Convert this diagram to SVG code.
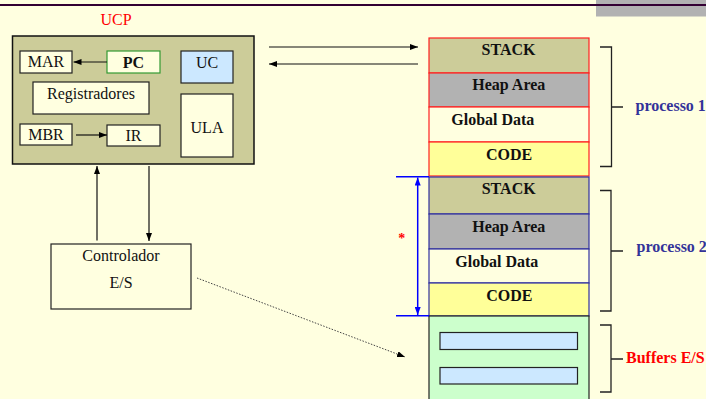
<svg xmlns="http://www.w3.org/2000/svg" width="706" height="399" viewBox="0 0 706 399">
<defs>
<marker id="ah" viewBox="0 0 8 6" refX="8" refY="3" markerWidth="8" markerHeight="6" markerUnits="userSpaceOnUse" orient="auto"><path d="M0,0 L8,3 L0,6 Z" fill="#000"/></marker>
<marker id="ahb" viewBox="0 0 8 6" refX="8" refY="3" markerWidth="8" markerHeight="6" markerUnits="userSpaceOnUse" orient="auto-start-reverse"><path d="M0,0 L8,3 L0,6 Z" fill="#0000FF"/></marker>
<style>
.t{font-family:"Liberation Serif","Times New Roman",serif;font-size:16px;fill:#111}
.b{font-weight:bold}
.m{text-anchor:middle}
.box{fill:#FFFFE0;stroke:#222;stroke-width:1.2}
.p1{stroke:#FF2020;stroke-width:1.2}
.p2{stroke:#3030A0;stroke-width:1.2}
.ln{stroke:#111;stroke-width:1.2;fill:none}
.br{stroke:#222;stroke-width:1.3;fill:none}
</style>
</defs>
<rect x="0" y="0" width="706" height="399" fill="#FFFFE0"/>
<rect x="596" y="0" width="110" height="16.5" fill="#B2B2B2"/>
<rect x="0" y="4" width="706" height="2" fill="#330033"/>
<text class="t m" x="116" y="25" fill="#FF0000" style="fill:#FF0000">UCP</text>
<g id="cpu">
<rect x="12.5" y="36" width="241.5" height="128" fill="#CCCC99" stroke="#111" stroke-width="1.5"/>
</g>
<g id="mar"><rect class="box" x="20" y="51" width="52" height="22"/><text class="t m" x="46" y="67">MAR</text></g>
<g id="pc"><rect class="box" x="107" y="51" width="53" height="22" style="stroke:#339933"/><text class="t b m" x="133.5" y="67.5">PC</text></g>
<g id="uc"><rect class="box" x="181" y="51" width="52" height="32" style="fill:#CCE8FF"/><text class="t m" x="207" y="67.5">UC</text></g>
<g id="registradores"><rect class="box" x="33" y="82" width="116" height="32"/><text class="t m" x="91" y="99">Registradores</text></g>
<g id="mbr"><rect class="box" x="20" y="124" width="52" height="21"/><text class="t m" x="46" y="140">MBR</text></g>
<g id="ir"><rect class="box" x="107" y="125" width="53" height="21"/><text class="t m" x="133.5" y="141">IR</text></g>
<g id="ula"><rect class="box" x="181" y="94" width="52" height="63"/><text class="t m" x="207" y="133">ULA</text></g>
<g id="controlador"><rect class="box" x="51" y="244" width="140" height="65"/><text class="t m" x="121" y="260.5">Controlador</text><text class="t m" x="121" y="288">E/S</text></g>
<g id="processo1">
<rect x="429" y="38" width="160" height="35" fill="#CCCC99" class="p1"/>
<rect x="429" y="73" width="160" height="34" fill="#B2B2B2" class="p1"/>
<rect x="429" y="107" width="160" height="35" fill="#FFFFE0" class="p1"/>
<rect x="429" y="142" width="160" height="34" fill="#FFFF99" class="p1"/>
<text class="t b m" x="508.5" y="54.5">STACK</text>
<text class="t b m" x="508.8" y="89.5">Heap Area</text>
<text class="t b m" x="492.8" y="124.5">Global Data</text>
<text class="t b m" x="509" y="160">CODE</text>
<path class="br" d="M600,47 H611.5 V166.5 H600 M611.5,107 H623"/>
<text class="t b" x="635.5" y="111" style="fill:#333399">processo 1</text>
</g>
<g id="processo2">
<rect x="429" y="177" width="160" height="37" fill="#CCCC99" class="p2"/>
<rect x="429" y="214" width="160" height="35" fill="#B2B2B2" class="p2"/>
<rect x="429" y="249" width="160" height="34" fill="#FFFFE0" class="p2"/>
<rect x="429" y="283" width="160" height="33" fill="#FFFF99" class="p2"/>
<text class="t b m" x="508.7" y="194">STACK</text>
<text class="t b m" x="508.8" y="232.3">Heap Area</text>
<text class="t b m" x="496.8" y="266.7">Global Data</text>
<text class="t b m" x="509.3" y="301">CODE</text>
<path class="br" d="M600,190.5 H611 V311 H600 M611,251 H623"/>
<text class="t b" x="636.5" y="252" style="fill:#333399">processo 2</text>
</g>
<g id="buffers">
<rect x="429" y="316" width="160" height="90" fill="#CCFFCC" stroke="#222" stroke-width="1.2"/>
<rect x="440" y="332.5" width="137.5" height="17" fill="#CCE8FF" stroke="#222" stroke-width="1.2"/>
<rect x="440" y="367.5" width="137.5" height="16.5" fill="#CCE8FF" stroke="#222" stroke-width="1.2"/>
<path class="br" d="M600,325 H611 V392 H600 M611,359 H623"/>
<text class="t b" x="626" y="362.7" style="fill:#FF0000">Buffers E/S</text>
</g>
<g id="connectors">
<line class="ln" x1="107" y1="62" x2="73.5" y2="62" marker-end="url(#ah)"/>
<line class="ln" x1="76" y1="135" x2="107" y2="135" marker-end="url(#ah)"/>
<line class="ln" x1="269" y1="47" x2="418" y2="47" marker-end="url(#ah)"/>
<line class="ln" x1="418" y1="64" x2="269" y2="64" marker-end="url(#ah)"/>
<line class="ln" x1="97" y1="240.5" x2="97" y2="166" marker-end="url(#ah)"/>
<line class="ln" x1="149" y1="166" x2="149" y2="241" marker-end="url(#ah)"/>
<line x1="197" y1="278" x2="405" y2="357" stroke="#444" stroke-width="1" stroke-dasharray="1.5,1.5" marker-end="url(#ah)"/>
<line x1="396" y1="176.7" x2="429" y2="176.7" stroke="#0000FF" stroke-width="1.5"/>
<line x1="396" y1="315.7" x2="429" y2="315.7" stroke="#0000FF" stroke-width="1.5"/>
<line x1="417.7" y1="177.5" x2="417.7" y2="315" stroke="#0000FF" stroke-width="1.5" marker-start="url(#ahb)" marker-end="url(#ahb)"/>
<text x="401.7" y="243" font-family="Liberation Serif, serif" font-size="14" font-weight="bold" fill="#FF0000" text-anchor="middle">*</text>
</g>
</svg>
